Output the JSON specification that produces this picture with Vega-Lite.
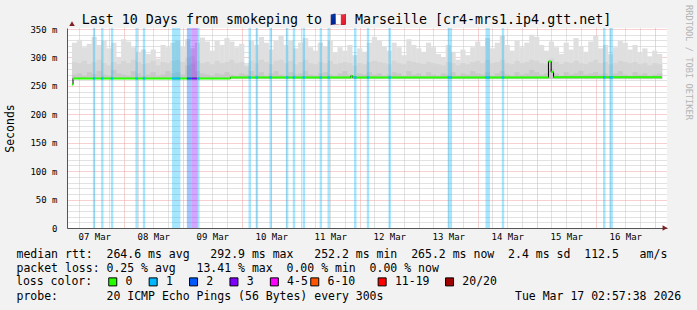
{
  "$schema": "https://vega.github.io/schema/vega-lite/v6.json",
  "width": 600,
  "height": 200,
  "autosize": {"type": "none"},
  "padding": {"left": 67, "top": 28, "right": 30, "bottom": 82},
  "background": "#f2f2f2",
  "config": {
    "view": {"fill": "#ffffff", "stroke": null},
    "font": "DejaVu Sans Mono",
    "axis": {
      "labelFont": "DejaVu Sans Mono", "titleFont": "DejaVu Sans Mono", "titleFontWeight": "normal",
      "labelColor": "#000000", "titleColor": "#000000", "ticks": false, "domain": false, "grid": false,
      "labels": false, "titleLimit": 1000, "zindex": 1
    }
  },
  "datasets": {
    "smoke": [
      {"t":"2026-03-07T04:00:00Z","hi":326,"mid":292,"dk":270},
      {"t":"2026-03-07T06:00:00Z","hi":331,"mid":290,"dk":272},
      {"t":"2026-03-07T08:00:00Z","hi":318,"mid":294,"dk":268},
      {"t":"2026-03-07T10:00:00Z","hi":324,"mid":288,"dk":274},
      {"t":"2026-03-07T12:00:00Z","hi":336,"mid":292,"dk":271},
      {"t":"2026-03-07T14:00:00Z","hi":322,"mid":296,"dk":276},
      {"t":"2026-03-07T16:00:00Z","hi":330,"mid":290,"dk":270},
      {"t":"2026-03-07T18:00:00Z","hi":316,"mid":286,"dk":268},
      {"t":"2026-03-07T20:00:00Z","hi":326,"mid":292,"dk":278},
      {"t":"2026-03-07T22:00:00Z","hi":300,"mid":288,"dk":272},
      {"t":"2026-03-08T00:00:00Z","hi":332,"mid":294,"dk":270},
      {"t":"2026-03-08T02:00:00Z","hi":328,"mid":290,"dk":268},
      {"t":"2026-03-08T04:00:00Z","hi":318,"mid":296,"dk":276},
      {"t":"2026-03-08T06:00:00Z","hi":310,"mid":292,"dk":272},
      {"t":"2026-03-08T08:00:00Z","hi":314,"mid":288,"dk":268},
      {"t":"2026-03-08T10:00:00Z","hi":306,"mid":290,"dk":270},
      {"t":"2026-03-08T12:00:00Z","hi":314,"mid":294,"dk":274},
      {"t":"2026-03-08T14:00:00Z","hi":298,"mid":286,"dk":268},
      {"t":"2026-03-08T16:00:00Z","hi":322,"mid":292,"dk":270},
      {"t":"2026-03-08T18:00:00Z","hi":318,"mid":290,"dk":276},
      {"t":"2026-03-08T20:00:00Z","hi":326,"mid":294,"dk":272},
      {"t":"2026-03-08T22:00:00Z","hi":330,"mid":296,"dk":274},
      {"t":"2026-03-09T00:00:00Z","hi":320,"mid":292,"dk":270},
      {"t":"2026-03-09T02:00:00Z","hi":332,"mid":300,"dk":286},
      {"t":"2026-03-09T04:00:00Z","hi":316,"mid":302,"dk":290},
      {"t":"2026-03-09T06:00:00Z","hi":326,"mid":294,"dk":276},
      {"t":"2026-03-09T08:00:00Z","hi":335,"mid":290,"dk":272},
      {"t":"2026-03-09T10:00:00Z","hi":328,"mid":292,"dk":270},
      {"t":"2026-03-09T12:00:00Z","hi":312,"mid":288,"dk":268},
      {"t":"2026-03-09T14:00:00Z","hi":330,"mid":294,"dk":272},
      {"t":"2026-03-09T16:00:00Z","hi":322,"mid":290,"dk":270},
      {"t":"2026-03-09T18:00:00Z","hi":334,"mid":292,"dk":274},
      {"t":"2026-03-09T20:00:00Z","hi":328,"mid":296,"dk":270},
      {"t":"2026-03-09T22:00:00Z","hi":318,"mid":290,"dk":268},
      {"t":"2026-03-10T00:00:00Z","hi":324,"mid":292,"dk":272},
      {"t":"2026-03-10T02:00:00Z","hi":288,"mid":284,"dk":270},
      {"t":"2026-03-10T04:00:00Z","hi":330,"mid":294,"dk":276},
      {"t":"2026-03-10T06:00:00Z","hi":322,"mid":290,"dk":270},
      {"t":"2026-03-10T08:00:00Z","hi":336,"mid":296,"dk":274},
      {"t":"2026-03-10T10:00:00Z","hi":326,"mid":292,"dk":268},
      {"t":"2026-03-10T12:00:00Z","hi":314,"mid":288,"dk":272},
      {"t":"2026-03-10T14:00:00Z","hi":330,"mid":294,"dk":276},
      {"t":"2026-03-10T16:00:00Z","hi":338,"mid":296,"dk":270},
      {"t":"2026-03-10T18:00:00Z","hi":322,"mid":290,"dk":268},
      {"t":"2026-03-10T20:00:00Z","hi":330,"mid":294,"dk":274},
      {"t":"2026-03-10T22:00:00Z","hi":316,"mid":288,"dk":270},
      {"t":"2026-03-11T00:00:00Z","hi":326,"mid":292,"dk":272},
      {"t":"2026-03-11T02:00:00Z","hi":334,"mid":296,"dk":276},
      {"t":"2026-03-11T04:00:00Z","hi":318,"mid":290,"dk":270},
      {"t":"2026-03-11T06:00:00Z","hi":312,"mid":288,"dk":268},
      {"t":"2026-03-11T08:00:00Z","hi":326,"mid":292,"dk":272},
      {"t":"2026-03-11T10:00:00Z","hi":320,"mid":290,"dk":274},
      {"t":"2026-03-11T12:00:00Z","hi":330,"mid":294,"dk":270},
      {"t":"2026-03-11T14:00:00Z","hi":308,"mid":288,"dk":268},
      {"t":"2026-03-11T16:00:00Z","hi":318,"mid":290,"dk":272},
      {"t":"2026-03-11T18:00:00Z","hi":312,"mid":292,"dk":276},
      {"t":"2026-03-11T20:00:00Z","hi":322,"mid":290,"dk":270},
      {"t":"2026-03-11T22:00:00Z","hi":304,"mid":286,"dk":268},
      {"t":"2026-03-12T00:00:00Z","hi":316,"mid":290,"dk":272},
      {"t":"2026-03-12T02:00:00Z","hi":310,"mid":288,"dk":270},
      {"t":"2026-03-12T04:00:00Z","hi":326,"mid":292,"dk":274},
      {"t":"2026-03-12T06:00:00Z","hi":336,"mid":294,"dk":270},
      {"t":"2026-03-12T08:00:00Z","hi":330,"mid":292,"dk":272},
      {"t":"2026-03-12T10:00:00Z","hi":320,"mid":290,"dk":268},
      {"t":"2026-03-12T12:00:00Z","hi":312,"mid":288,"dk":270},
      {"t":"2026-03-12T14:00:00Z","hi":326,"mid":294,"dk":274},
      {"t":"2026-03-12T16:00:00Z","hi":318,"mid":290,"dk":272},
      {"t":"2026-03-12T18:00:00Z","hi":304,"mid":288,"dk":268},
      {"t":"2026-03-12T20:00:00Z","hi":332,"mid":294,"dk":276},
      {"t":"2026-03-12T22:00:00Z","hi":322,"mid":292,"dk":270},
      {"t":"2026-03-13T00:00:00Z","hi":316,"mid":290,"dk":272},
      {"t":"2026-03-13T02:00:00Z","hi":310,"mid":288,"dk":268},
      {"t":"2026-03-13T04:00:00Z","hi":326,"mid":292,"dk":274},
      {"t":"2026-03-13T06:00:00Z","hi":318,"mid":290,"dk":270},
      {"t":"2026-03-13T08:00:00Z","hi":306,"mid":288,"dk":268},
      {"t":"2026-03-13T10:00:00Z","hi":300,"mid":286,"dk":272},
      {"t":"2026-03-13T12:00:00Z","hi":322,"mid":292,"dk":270},
      {"t":"2026-03-13T14:00:00Z","hi":310,"mid":290,"dk":274},
      {"t":"2026-03-13T16:00:00Z","hi":296,"mid":286,"dk":268},
      {"t":"2026-03-13T18:00:00Z","hi":314,"mid":290,"dk":272},
      {"t":"2026-03-13T20:00:00Z","hi":304,"mid":288,"dk":270},
      {"t":"2026-03-13T22:00:00Z","hi":318,"mid":292,"dk":276},
      {"t":"2026-03-14T00:00:00Z","hi":328,"mid":294,"dk":272},
      {"t":"2026-03-14T02:00:00Z","hi":320,"mid":290,"dk":270},
      {"t":"2026-03-14T04:00:00Z","hi":334,"mid":296,"dk":274},
      {"t":"2026-03-14T06:00:00Z","hi":316,"mid":290,"dk":268},
      {"t":"2026-03-14T08:00:00Z","hi":326,"mid":292,"dk":272},
      {"t":"2026-03-14T10:00:00Z","hi":338,"mid":296,"dk":276},
      {"t":"2026-03-14T12:00:00Z","hi":322,"mid":290,"dk":270},
      {"t":"2026-03-14T14:00:00Z","hi":312,"mid":288,"dk":268},
      {"t":"2026-03-14T16:00:00Z","hi":330,"mid":294,"dk":274},
      {"t":"2026-03-14T18:00:00Z","hi":318,"mid":290,"dk":270},
      {"t":"2026-03-14T20:00:00Z","hi":326,"mid":292,"dk":272},
      {"t":"2026-03-14T22:00:00Z","hi":340,"mid":296,"dk":278},
      {"t":"2026-03-15T00:00:00Z","hi":336,"mid":294,"dk":274},
      {"t":"2026-03-15T02:00:00Z","hi":322,"mid":290,"dk":270},
      {"t":"2026-03-15T04:00:00Z","hi":312,"mid":288,"dk":272},
      {"t":"2026-03-15T06:00:00Z","hi":328,"mid":298,"dk":280},
      {"t":"2026-03-15T08:00:00Z","hi":318,"mid":292,"dk":272},
      {"t":"2026-03-15T10:00:00Z","hi":306,"mid":288,"dk":268},
      {"t":"2026-03-15T12:00:00Z","hi":326,"mid":292,"dk":274},
      {"t":"2026-03-15T14:00:00Z","hi":314,"mid":290,"dk":270},
      {"t":"2026-03-15T16:00:00Z","hi":334,"mid":294,"dk":272},
      {"t":"2026-03-15T18:00:00Z","hi":320,"mid":290,"dk":276},
      {"t":"2026-03-15T20:00:00Z","hi":310,"mid":288,"dk":270},
      {"t":"2026-03-15T22:00:00Z","hi":328,"mid":292,"dk":272},
      {"t":"2026-03-16T00:00:00Z","hi":338,"mid":296,"dk":274},
      {"t":"2026-03-16T02:00:00Z","hi":316,"mid":290,"dk":270},
      {"t":"2026-03-16T04:00:00Z","hi":322,"mid":292,"dk":272},
      {"t":"2026-03-16T06:00:00Z","hi":306,"mid":288,"dk":268},
      {"t":"2026-03-16T08:00:00Z","hi":318,"mid":290,"dk":272},
      {"t":"2026-03-16T10:00:00Z","hi":330,"mid":294,"dk":276},
      {"t":"2026-03-16T12:00:00Z","hi":326,"mid":292,"dk":270},
      {"t":"2026-03-16T14:00:00Z","hi":314,"mid":290,"dk":268},
      {"t":"2026-03-16T16:00:00Z","hi":322,"mid":292,"dk":274},
      {"t":"2026-03-16T18:00:00Z","hi":308,"mid":288,"dk":270},
      {"t":"2026-03-16T20:00:00Z","hi":316,"mid":290,"dk":272},
      {"t":"2026-03-16T22:00:00Z","hi":302,"mid":286,"dk":268},
      {"t":"2026-03-17T00:00:00Z","hi":312,"mid":290,"dk":270},
      {"t":"2026-03-17T02:00:00Z","hi":306,"mid":288,"dk":272}
    ],
    "median": [
      {"t0":"2026-03-07T02:58:00Z","t1":"2026-03-07T03:22:00Z","med":252.2},
      {"t0":"2026-03-07T03:22:00Z","t1":"2026-03-09T19:22:00Z","med":263.0},
      {"t0":"2026-03-09T19:22:00Z","t1":"2026-03-11T20:22:00Z","med":264.8},
      {"t0":"2026-03-11T20:22:00Z","t1":"2026-03-11T21:10:00Z","med":267.5},
      {"t0":"2026-03-11T21:10:00Z","t1":"2026-03-15T04:46:00Z","med":264.8},
      {"t0":"2026-03-15T04:46:00Z","t1":"2026-03-15T05:53:00Z","med":292.9},
      {"t0":"2026-03-15T05:53:00Z","t1":"2026-03-15T06:51:00Z","med":274.5},
      {"t0":"2026-03-15T06:51:00Z","t1":"2026-03-17T02:58:00Z","med":265.0},
      {"t0":"2026-03-17T02:58:00Z","t1":"2026-03-17T02:58:00Z","med":265.0}
    ],
    "loss": [
      {"t0":"2026-03-07T11:27:00Z","t1":"2026-03-07T12:24:00Z","loss":"1","med":263.0},
      {"t0":"2026-03-07T14:48:00Z","t1":"2026-03-07T15:46:00Z","loss":"1","med":263.0},
      {"t0":"2026-03-07T18:46:00Z","t1":"2026-03-07T19:46:00Z","loss":"1","med":263.0},
      {"t0":"2026-03-08T04:46:00Z","t1":"2026-03-08T05:46:00Z","loss":"1","med":263.0},
      {"t0":"2026-03-08T07:46:00Z","t1":"2026-03-08T08:46:00Z","loss":"1","med":263.0},
      {"t0":"2026-03-08T19:39:00Z","t1":"2026-03-08T23:03:00Z","loss":"1","med":263.0},
      {"t0":"2026-03-09T01:41:00Z","t1":"2026-03-09T03:32:00Z","loss":"2","med":263.0},
      {"t0":"2026-03-09T03:32:00Z","t1":"2026-03-09T05:51:00Z","loss":"3","med":263.0},
      {"t0":"2026-03-09T05:51:00Z","t1":"2026-03-09T06:51:00Z","loss":"1","med":263.0},
      {"t0":"2026-03-10T02:46:00Z","t1":"2026-03-10T03:46:00Z","loss":"1","med":264.8},
      {"t0":"2026-03-10T05:41:00Z","t1":"2026-03-10T06:41:00Z","loss":"1","med":264.8},
      {"t0":"2026-03-10T11:17:00Z","t1":"2026-03-10T12:17:00Z","loss":"1","med":264.8},
      {"t0":"2026-03-10T17:58:00Z","t1":"2026-03-10T18:58:00Z","loss":"1","med":264.8},
      {"t0":"2026-03-10T20:46:00Z","t1":"2026-03-10T21:46:00Z","loss":"1","med":264.8},
      {"t0":"2026-03-11T00:46:00Z","t1":"2026-03-11T01:46:00Z","loss":"1","med":264.8},
      {"t0":"2026-03-11T07:41:00Z","t1":"2026-03-11T08:41:00Z","loss":"1","med":264.8},
      {"t0":"2026-03-11T10:53:00Z","t1":"2026-03-11T11:53:00Z","loss":"1","med":264.8},
      {"t0":"2026-03-11T21:41:00Z","t1":"2026-03-11T22:41:00Z","loss":"1","med":264.8},
      {"t0":"2026-03-12T02:53:00Z","t1":"2026-03-12T03:53:00Z","loss":"1","med":264.8},
      {"t0":"2026-03-12T11:41:00Z","t1":"2026-03-12T12:41:00Z","loss":"1","med":264.8},
      {"t0":"2026-03-13T11:46:00Z","t1":"2026-03-13T13:34:00Z","loss":"1","med":264.8},
      {"t0":"2026-03-14T03:10:00Z","t1":"2026-03-14T04:58:00Z","loss":"1","med":264.8},
      {"t0":"2026-03-14T09:46:00Z","t1":"2026-03-14T10:46:00Z","loss":"1","med":264.8},
      {"t0":"2026-03-16T02:58:00Z","t1":"2026-03-16T03:58:00Z","loss":"1","med":264.8},
      {"t0":"2026-03-16T05:34:00Z","t1":"2026-03-16T06:58:00Z","loss":"1","med":264.8}
    ]
  },
  "layer": [
    {
      "data": {"name": "smoke"},
      "mark": {"type": "bar", "width": 5.2, "color": "#dfdfdf"},
      "encoding": {
        "x": {"field": "t", "type": "temporal",
          "scale": {"type": "utc", "domain": [1772852258000, 1773716258000]},
          "axis": {"orient": "bottom", "grid": true, "gridColor": "#c4c4c4", "gridDash": [1, 1],
            "values": [1772863200000, 1772884800000, 1772906400000, 1772949600000, 1772971200000, 1772992800000, 1773036000000, 1773057600000, 1773079200000, 1773122400000, 1773144000000, 1773165600000, 1773208800000, 1773230400000, 1773252000000, 1773295200000, 1773316800000, 1773338400000, 1773381600000, 1773403200000, 1773424800000, 1773468000000, 1773489600000, 1773511200000, 1773554400000, 1773576000000, 1773597600000, 1773640800000, 1773662400000, 1773684000000],
            "title": "median rtt:\u00a0\u00a0264.6 ms avg\u00a0\u00a0\u00a0292.9 ms max\u00a0\u00a0\u00a0252.2 ms min\u00a0\u00a0265.2 ms now\u00a0\u00a02.4 ms sd\u00a0\u00a0112.5\u00a0\u00a0\u00a0am/s",
            "titleX": -51, "titleY": 26, "titleAlign": "left", "titleBaseline": "middle", "titleFontSize": 11.5}},
        "y": {"field": "hi", "type": "quantitative",
          "scale": {"domain": [0, 351.8], "nice": false},
          "axis": {"orient": "left", "grid": true, "gridColor": "#c4c4c4", "gridDash": [1, 1],
            "values": [10, 20, 30, 40, 60, 70, 80, 90, 110, 120, 130, 140, 160, 170, 180, 190, 210, 220, 230, 240, 260, 270, 280, 290, 310, 320, 330, 340],
            "title": null}},
        "y2": {"datum": 262}
      }
    },
    {
      "data": {"name": "smoke"},
      "mark": {"type": "bar", "width": 5.2, "color": "#d5d5d5"},
      "encoding": {
        "x": {"field": "t", "type": "temporal",
          "scale": {"type": "utc", "domain": [1772852258000, 1773716258000]},
          "axis": {"orient": "bottom", "grid": true, "gridColor": "#efa3a3", "gridDash": [1, 1],
            "values": [1772928000000, 1773014400000, 1773100800000, 1773187200000, 1773273600000, 1773360000000, 1773446400000, 1773532800000, 1773619200000, 1773705600000],
            "title": "packet loss: 0.25 % avg\u00a0\u00a0\u00a013.41 % max\u00a0\u00a00.00 % min\u00a0\u00a00.00 % now",
            "titleX": -51, "titleY": 40, "titleAlign": "left", "titleBaseline": "middle", "titleFontSize": 11.5}},
        "y": {"field": "mid", "type": "quantitative",
          "scale": {"domain": [0, 351.8], "nice": false},
          "axis": {"orient": "left", "grid": true, "gridColor": "#efa3a3", "gridDash": [1, 1],
            "values": [0, 50, 100, 150, 200, 250, 300, 350],
            "labels": true, "labelFontSize": 9, "labelPadding": 10,
            "labelExpr": "datum.value == 0 ? '0' : datum.value + ' m'",
            "domain": true, "domainColor": "#555555",
            "title": "Seconds", "titleX": -57, "titleY": 100, "titleAngle": -90, "titleAlign": "center", "titleBaseline": "middle", "titleFontSize": 11.5}},
        "y2": {"datum": 262}
      }
    },
    {
      "data": {"name": "smoke"},
      "mark": {"type": "bar", "width": 5.2, "color": "#c8c8c8"},
      "encoding": {
        "x": {"field": "t", "type": "temporal",
          "scale": {"type": "utc", "domain": [1772852258000, 1773716258000]},
          "axis": {"orient": "bottom", "labels": true, "labelFontSize": 9, "labelPadding": 4, "format": "%d %b",
            "values": [1772884800000, 1772971200000, 1773057600000, 1773144000000, 1773230400000, 1773316800000, 1773403200000, 1773489600000, 1773576000000, 1773662400000],
            "domain": true, "domainColor": "#555555",
            "title": "probe:\u00a0\u00a0\u00a0\u00a0\u00a0\u00a0\u00a020 ICMP Echo Pings (56 Bytes) every 300s\u00a0\u00a0\u00a0\u00a0\u00a0\u00a0\u00a0\u00a0\u00a0\u00a0\u00a0\u00a0\u00a0\u00a0\u00a0\u00a0\u00a0\u00a0\u00a0Tue Mar 17 02:57:38 2026",
            "titleX": -51, "titleY": 68, "titleAlign": "left", "titleBaseline": "middle", "titleFontSize": 11.5}},
        "y": {"field": "dk", "type": "quantitative",
          "scale": {"domain": [0, 351.8], "nice": false},
          "axis": {"orient": "right", "title": "RRDTOOL / TOBI OETIKER", "titleAngle": 90, "titleX": 21, "titleY": 34,
            "titleAlign": "center", "titleBaseline": "middle", "titleFontSize": 8.7, "titleColor": "#b4b4b4"}},
        "y2": {"datum": 262}
      }
    },
    {
      "data": {"name": "loss"},
      "mark": {"type": "rect", "opacity": 0.35},
      "encoding": {
        "x": {"field": "t0", "type": "temporal", "scale": {"type": "utc", "domain": [1772852258000, 1773716258000]},
          "axis": {"orient": "top", "values": [],
            "title": "Last 10 Days from smokeping to 🇫🇷 Marseille [cr4-mrs1.ip4.gtt.net]",
            "titleX": 279, "titleY": -4.5, "titleAlign": "center", "titleBaseline": "alphabetic", "titleFontSize": 13.3}},
        "x2": {"field": "t1"},
        "color": {"field": "loss", "type": "nominal",
          "scale": {"domain": ["0", "1", "2", "3", "4-5", "6-10", "11-19", "20/20"],
                    "range": ["#26ff00", "#00b8ff", "#0059ff", "#7e00ff", "#ff00ff", "#ff5500", "#ff0000", "#a10000"]},
          "legend": {"orient": "none", "legendX": -51, "legendY": 248, "direction": "horizontal",
            "title": "loss color:", "titleOrient": "left", "titlePadding": 14,
            "titleFont": "DejaVu Sans Mono", "titleFontSize": 11.5, "titleFontWeight": "normal", "titleColor": "#000000",
            "labelFont": "DejaVu Sans Mono", "labelFontSize": 11.5, "labelColor": "#000000",
            "labelOffset": 7, "columnPadding": -0.6, "padding": 0,
            "symbolType": "square", "symbolSize": 64, "symbolStrokeColor": "#000000", "symbolStrokeWidth": 1, "symbolOpacity": 1,
            "labelExpr": "datum.label == '6-10' ? '6-10\u00a0\u00a0\u00a0\u200b' : datum.label == '11-19' ? '11-19\u00a0\u00a0\u200b' : (datum.label == '4-5' || datum.label == '20/20') ? datum.label : datum.label + '\u00a0\u00a0\u200b'"}}
      }
    },
    {
      "data": {"name": "median"},
      "mark": {"type": "line", "interpolate": "step-after", "color": "#000000", "strokeWidth": 1},
      "encoding": {
        "x": {"field": "t0", "type": "temporal", "scale": {"type": "utc", "domain": [1772852258000, 1773716258000]}, "axis": null},
        "y": {"field": "med", "type": "quantitative", "scale": {"domain": [0, 351.8], "nice": false}, "axis": null}
      }
    },
    {
      "data": {"name": "median"},
      "mark": {"type": "rule", "color": "#26ff00", "strokeWidth": 2},
      "encoding": {
        "x": {"field": "t0", "type": "temporal", "scale": {"type": "utc", "domain": [1772852258000, 1773716258000]}, "axis": null},
        "x2": {"field": "t1"},
        "y": {"field": "med", "type": "quantitative", "scale": {"domain": [0, 351.8], "nice": false}, "axis": null}
      }
    },
    {
      "data": {"name": "loss"},
      "mark": {"type": "rule", "strokeWidth": 2},
      "encoding": {
        "x": {"field": "t0", "type": "temporal", "scale": {"type": "utc", "domain": [1772852258000, 1773716258000]}, "axis": null},
        "x2": {"field": "t1"},
        "y": {"field": "med", "type": "quantitative", "scale": {"domain": [0, 351.8], "nice": false}, "axis": null},
        "color": {"field": "loss", "type": "nominal",
          "scale": {"domain": ["0", "1", "2", "3", "4-5", "6-10", "11-19", "20/20"],
                    "range": ["#26ff00", "#00b8ff", "#0059ff", "#7e00ff", "#ff00ff", "#ff5500", "#ff0000", "#a10000"]},
          "legend": null}
      }
    },
    {
      "data": {"values": [{"t": "2026-03-17T04:10:00Z", "v": 0}]},
      "mark": {"type": "point", "shape": "triangle-right", "filled": true, "color": "#801f1f", "size": 30, "opacity": 1},
      "encoding": {
        "x": {"field": "t", "type": "temporal", "scale": {"type": "utc", "domain": [1772852258000, 1773716258000]}, "axis": null},
        "y": {"field": "v", "type": "quantitative", "scale": {"domain": [0, 351.8], "nice": false}, "axis": null}
      }
    },
    {
      "data": {"values": [{"t": "2026-03-07T02:57:38Z", "v": 359.7}]},
      "mark": {"type": "point", "shape": "triangle-up", "filled": true, "color": "#801f1f", "size": 30, "opacity": 1},
      "encoding": {
        "x": {"field": "t", "type": "temporal", "scale": {"type": "utc", "domain": [1772852258000, 1773716258000]}, "axis": null},
        "y": {"field": "v", "type": "quantitative", "scale": {"domain": [0, 351.8], "nice": false}, "axis": null}
      }
    }
  ],
  "resolve": {"scale": {"color": "independent"}, "axis": {"x": "independent", "y": "independent"}}
}
